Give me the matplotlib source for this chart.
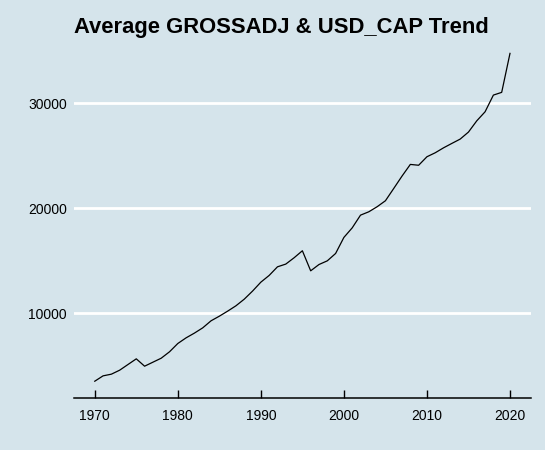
import matplotlib
matplotlib.use('Agg')
import matplotlib.pyplot as plt
import numpy as np

plt.rcParams['font.family'] = ['Liberation Sans', 'DejaVu Sans']

years = list(range(1970, 2021))
avg_value = [3520, 4030, 4190, 4570, 5110, 5650, 4950, 5330, 5710, 6320,
             7110, 7650, 8100, 8600, 9270, 9710, 10190, 10700, 11330, 12100,
             12950, 13590, 14410, 14670, 15270, 15940, 14030, 14630, 14980, 15680,
             17210, 18120, 19330, 19650, 20130, 20700, 21870, 23050, 24160, 24080,
             24890, 25270, 25740, 26160, 26570, 27240, 28310, 29170, 30760, 31020,
             34730]
xticks = [1970, 1980, 1990, 2000, 2010, 2020]
yticks = [10000, 20000, 30000]

bg = '#d5e4eb'
fig = plt.figure(figsize=(5.45, 4.5), dpi=100, facecolor=bg)
ax = fig.add_axes([74/545, 1 - 397.6/450, (530.75 - 74)/545, (397.6 - 37)/450])
ax.set_facecolor(bg)

ax.plot(years, avg_value, color='black', linewidth=0.9, zorder=3)
ax.margins(x=0.05, y=0.05)

ax.set_xticks(xticks)
ax.set_yticks(yticks)
ax.set_yticklabels([str(v) for v in yticks])
ax.grid(axis='y', color='white', linewidth=2, zorder=1)
ax.set_axisbelow(True)

for side in ['left', 'right', 'top']:
    ax.spines[side].set_visible(False)
ax.spines['bottom'].set_color('black')
ax.spines['bottom'].set_linewidth(1.1)

ax.tick_params(axis='x', direction='in', length=5.5, width=1, color='black',
               labelsize=10, pad=8)
ax.tick_params(axis='y', length=0, labelsize=10, pad=5)

fig.text(74/545, 1 - 27/450, 'Average GROSSADJ & USD_CAP Trend',
         fontsize=15.8, fontweight='bold', ha='left', va='center')

fig.savefig('out.png', dpi=100, facecolor=bg)
